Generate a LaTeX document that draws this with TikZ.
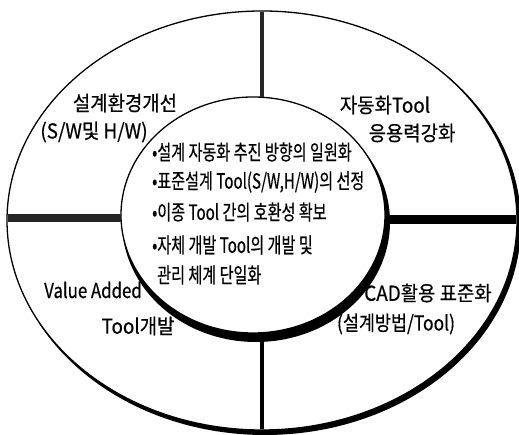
\documentclass[tikz,border=0pt]{standalone}
\usepackage{fontspec}
\setmainfont{Noto Sans CJK KR}[FakeBold=0.5]
\usepackage{graphicx}
\begin{document}
\begin{tikzpicture}[x=1pt,y=1pt,
  lbl/.style={inner sep=0pt, font=\fontsize{20.5}{22}\selectfont},
  itm/.style={inner sep=0pt, anchor=west, font=\fontsize{21}{23}\selectfont},
  rim/.style={line width=1.3pt}]
\newcommand{\ox}[2][0.92]{\scalebox{#1}[1]{#2}}
\newcommand{\cx}[1]{\scalebox{0.72}[1]{#1}}
\useasboundingbox (0,0) rectangle (519,435);
% outer ring with shadow
\fill[black] (265,211) ellipse [x radius=256pt, y radius=211pt];
\fill[white] (262,214.5) ellipse [x radius=255pt, y radius=209.5pt];
\draw[rim] (262,214.5) ellipse [x radius=255pt, y radius=209.5pt];
% inner disc with shadow
\fill[black] (256,213) ellipse [x radius=134pt, y radius=120pt];
\fill[white] (253,220) ellipse [x radius=132pt, y radius=118pt];
\draw[rim] (253,220) ellipse [x radius=132pt, y radius=118pt];
% dividers
\coordinate (tA) at (262,423);
\coordinate (tB) at (262,338);
\coordinate (lA) at (8,217);
\coordinate (lB) at (121,217);
\coordinate (rA) at (385,215);
\coordinate (rB) at (516,215);
\coordinate (bA) at (262,97);
\coordinate (bB) at (262,6);
\draw[line width=4pt, black!85] (tA) -- (tB);
\draw[line width=8pt, black!85] (lA) -- (lB);
\draw[line width=9pt] (rA) -- (rB);
\draw[line width=4pt] (bA) -- (bB);
% sector labels
\node[lbl] (s1a) at (125,332) {\ox{설계환경개선}};
\node[lbl] (s1b) at (94,303) {\ox{(S/W및 H/W)}};
\node[lbl] (s2a) at (385,330) {\ox{자동화Tool}};
\node[lbl] (s2b) at (412,302) {\ox{응용력강화}};
\node[lbl] (s3a) at (93,145) {\ox[0.82]{Value Added}};
\node[lbl] (s3b) at (138,109) {\ox{Tool개발}};
\node[lbl] (s4a) at (428,142) {\ox{CAD활용 표준화}};
\node[lbl] (s4b) at (396,111) {\ox[0.85]{(설계방법/Tool)}};
% center list
\node[itm] (c1) at (152,283) {\cx{•설계 자동화 추진 방향의 일원화}};
\node[itm] (c2) at (152,253) {\cx{•표준설계 Tool(S/W,H/W)의 선정}};
\node[itm] (c3) at (152,223) {\cx{•이종 Tool 간의 호환성 확보}};
\node[itm] (c4) at (152,190) {\cx{•자체 개발 Tool의 개발 및}};
\node[itm] (c5) at (157,160) {\cx{관리 체계 단일화}};
\end{tikzpicture}
\end{document}
